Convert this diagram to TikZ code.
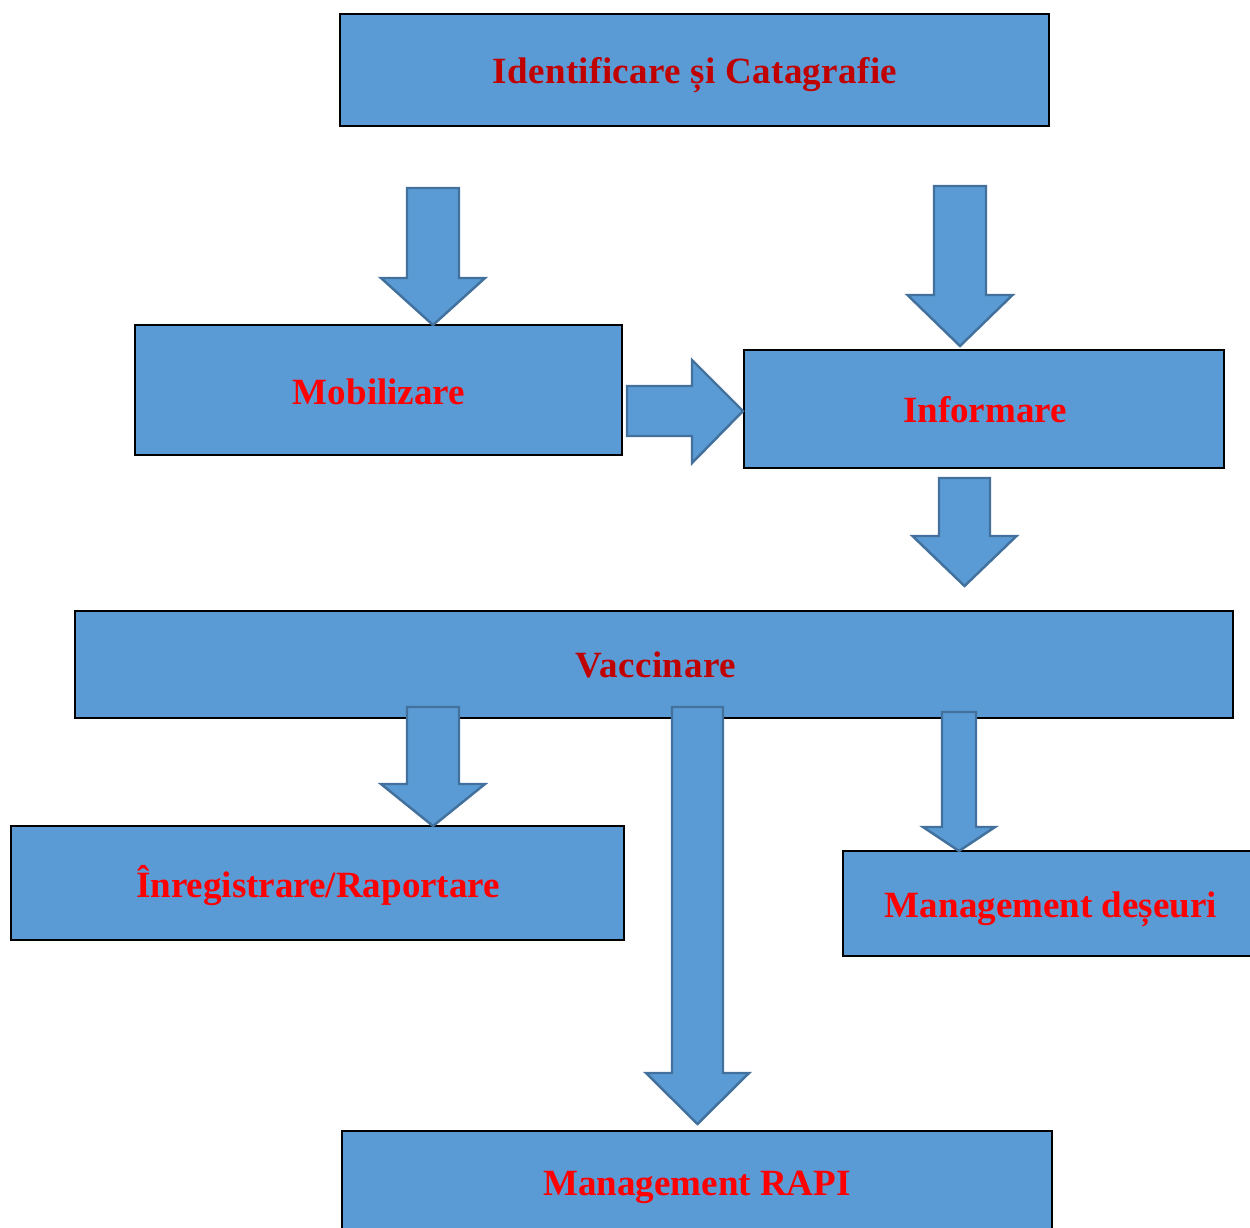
\documentclass[tikz,border=0pt]{standalone}
\usepackage{fontspec}
\setmainfont{Liberation Serif}
\definecolor{boxblue}{HTML}{5B9BD5}
\definecolor{arrowedge}{HTML}{41719C}
\definecolor{darkred}{HTML}{C00000}
\definecolor{brightred}{HTML}{FF0000}
\newcommand{\dblock}[6]{%
  \draw[blockarrow] (#1-#5,#2) -- (#1+#5,#2) -- (#1+#5,#3) -- (#1+#6,#3) -- (#1,#4) -- (#1-#6,#3) -- (#1-#5,#3) -- cycle;}
\tikzset{
  box/.style={draw=black, line width=0.8pt, fill=boxblue, inner sep=0pt, rectangle},
  blockarrow/.style={draw=arrowedge, line width=1.4pt, fill=boxblue, line join=miter},
  lbl/.style={inner sep=0pt, anchor=base, font=\fontsize{21.07}{25}\selectfont\bfseries},
}
\begin{document}
\begin{tikzpicture}[x=0.02cm, y=-0.02cm]
\useasboundingbox (0,0) rectangle (1250,1227);
\clip (0,0) rectangle (1250,1227);
\fill[white] (0,0) rectangle (1250,1227);
% boxes
\node[box, minimum width=14.18cm, minimum height=2.24cm] (ident) at (694.5,70) {};
\node[box, minimum width=9.74cm, minimum height=2.6cm] (mob) at (378.5,390) {};
\node[box, minimum width=9.6cm, minimum height=2.36cm] (inf) at (984,409) {};
\node[box, minimum width=23.16cm, minimum height=2.14cm] (vac) at (654,664.5) {};
\node[box, minimum width=12.26cm, minimum height=2.28cm] (inr) at (317.5,883) {};
\node[box, minimum width=8.54cm, minimum height=2.1cm] (des) at (1056.5,903.5) {};
\node[box, minimum width=14.2cm, minimum height=2.4cm] (rapi) at (697,1191) {};
% labels (anchored at baseline)
\node[lbl, text=darkred] (tident) at (695,83.5) {\addfontfeatures{LetterSpace=1}Identificare și Catagrafie};
\node[lbl, text=brightred] (tmob) at (379,404.5) {Mobilizare};
\node[lbl, text=brightred] (tinf) at (985,422.5) {Informare};
\node[lbl, text=darkred] (tvac) at (655.5,677.5) {\addfontfeatures{LetterSpace=1.5}Vaccinare};
\node[lbl, text=brightred] (tinr) at (318,897.5) {Înregistrare/Raportare};
\node[lbl, text=brightred] (tdes) at (1051,917.5) {Management deșeuri};
\node[lbl, text=brightred] (trapi) at (697,1195.5) {Management RAPI};
% block arrows
\dblock{433}{188}{278}{325}{26}{52}
\dblock{960}{186}{295}{346}{26}{52.5}
\draw[blockarrow] (627,386) -- (692,386) -- (692,360) -- (743,411) -- (692,463) -- (692,436) -- (627,436) -- cycle;
\dblock{964.5}{478}{536}{586}{25.5}{52}
\dblock{433}{707}{784}{826}{26}{52}
\dblock{697.5}{707}{1073}{1124}{25.5}{51.5}
\dblock{959}{712}{827}{851}{17}{36}
\end{tikzpicture}
\end{document}
